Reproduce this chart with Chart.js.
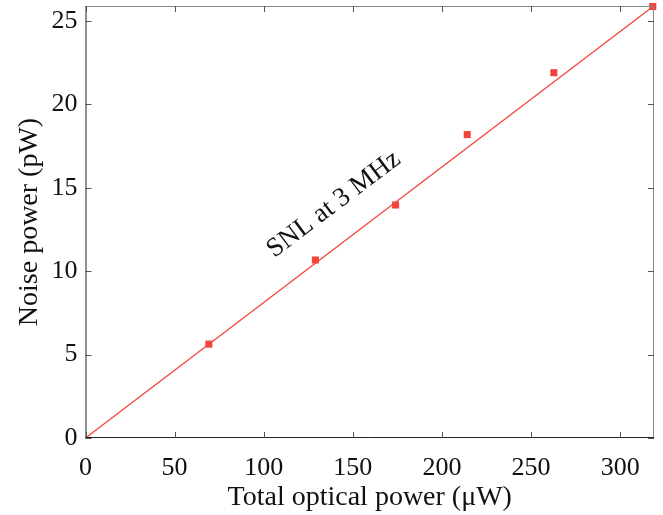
<!DOCTYPE html>
<html>
<head>
<meta charset="utf-8">
<script src="https://cdn.jsdelivr.net/npm/chart.js@4/dist/chart.umd.min.js"></script>
<style>
  html, body { margin: 0; padding: 0; background: #fff; }
  #wrap { width: 663px; height: 515px; }
</style>
</head>
<body>
<div id="wrap"><canvas id="snlChart" width="663" height="515"></canvas></div>
<script>
// measured points
const powerX = [69.2, 129, 174, 214.2, 262.8, 318.3];
const noiseY = [5.63, 10.67, 13.97, 18.19, 21.9, 25.87];
// shot-noise-limit line
const snlX = [0, 319];
const snlY = [0, 25.92];
const xTicks = [0, 50, 100, 150, 200, 250, 300];
const yTicks = [0, 5, 10, 15, 20, 25];

const red = '#f2443a';
const serif = '"Liberation Serif", "Times New Roman", serif';

// box + inward ticks + the rotated label
const frame = {
    id: 'frame',
    afterDraw(chart) {
        const { ctx, chartArea: a, scales } = chart;
        ctx.save();
        ctx.lineWidth = 1;
        ctx.strokeStyle = '#888';
        ctx.beginPath();
        ctx.moveTo(a.left, a.top + 0.5); ctx.lineTo(a.right, a.top + 0.5);
        ctx.moveTo(a.right - 0.5, a.top); ctx.lineTo(a.right - 0.5, a.bottom);
        ctx.stroke();
        ctx.strokeStyle = '#222';
        ctx.beginPath();
        ctx.moveTo(a.left + 0.5, a.top); ctx.lineTo(a.left + 0.5, a.bottom);
        ctx.moveTo(a.left, a.bottom - 0.5); ctx.lineTo(a.right, a.bottom - 0.5);
        ctx.stroke();

        ctx.strokeStyle = '#555';
        ctx.beginPath();
        xTicks.forEach(v => {
            const px = Math.round(scales.x.getPixelForValue(v)) + 0.5;
            ctx.moveTo(px, a.bottom); ctx.lineTo(px, a.bottom - 6);
            ctx.moveTo(px, a.top); ctx.lineTo(px, a.top + 6);
        });
        yTicks.forEach(v => {
            const py = Math.round(scales.y.getPixelForValue(v)) + 0.5;
            ctx.moveTo(a.left, py); ctx.lineTo(a.left + 6, py);
            ctx.moveTo(a.right, py); ctx.lineTo(a.right - 6, py);
        });
        ctx.stroke();

        // label along the line
        const lx = scales.x.getPixelForValue(139.3);
        const ly = scales.y.getPixelForValue(14.0);
        ctx.translate(lx, ly);
        ctx.rotate(-37 * Math.PI / 180);
        ctx.fillStyle = '#111';
        ctx.font = '27px ' + serif;
        ctx.textAlign = 'center';
        ctx.textBaseline = 'middle';
        ctx.fillText('SNL at 3 MHz', 0, 0);
        ctx.restore();
    }
};

new Chart(document.getElementById('snlChart'), {
    type: 'scatter',
    data: {
        datasets: [
            {
                type: 'line',
                data: snlX.map((x, i) => ({ x: x, y: snlY[i] })),
                borderColor: red,
                borderWidth: 1.3,
                pointRadius: 0,
                fill: false,
                order: 2
            },
            {
                data: powerX.map((x, i) => ({ x: x, y: noiseY[i] })),
                backgroundColor: red,
                borderColor: red,
                pointStyle: 'rect',
                pointRadius: 5,
                borderWidth: 0,
                order: 1
            }
        ]
    },
    options: {
        responsive: false,
        animation: false,
        clip: false,
        layout: { padding: { top: 6, right: 9, left: 0, bottom: 0 } },
        plugins: { legend: { display: false }, tooltip: { enabled: false } },
        scales: {
            x: {
                type: 'linear',
                min: 0, max: 319,
                grid: { display: false },
                border: { display: false },
                afterFit(s) { s.height = 77; s.paddingLeft = 0; s.paddingRight = 0; },
                ticks: {
                    stepSize: 50, includeBounds: false, maxRotation: 0,
                    color: '#111', padding: 7,
                    font: { family: serif, size: 26 }
                },
                title: {
                    display: true, text: 'Total optical power (\u03bcW)',
                    color: '#111', padding: { top: 0, bottom: 1 },
                    font: { family: serif, size: 28 }
                }
            },
            y: {
                min: 0, max: 25.9,
                grid: { display: false },
                border: { display: false },
                afterFit(s) { s.width = 85.5; s.paddingTop = 0; s.paddingBottom = 0; },
                ticks: {
                    stepSize: 5, includeBounds: false,
                    color: '#111', padding: 0,
                    font: { family: serif, size: 26 }
                },
                title: {
                    display: true, text: 'Noise power (pW)',
                    color: '#111', padding: { top: 13, bottom: 0 },
                    font: { family: serif, size: 28 }
                }
            }
        }
    },
    plugins: [frame]
});
</script>
</body>
</html>
